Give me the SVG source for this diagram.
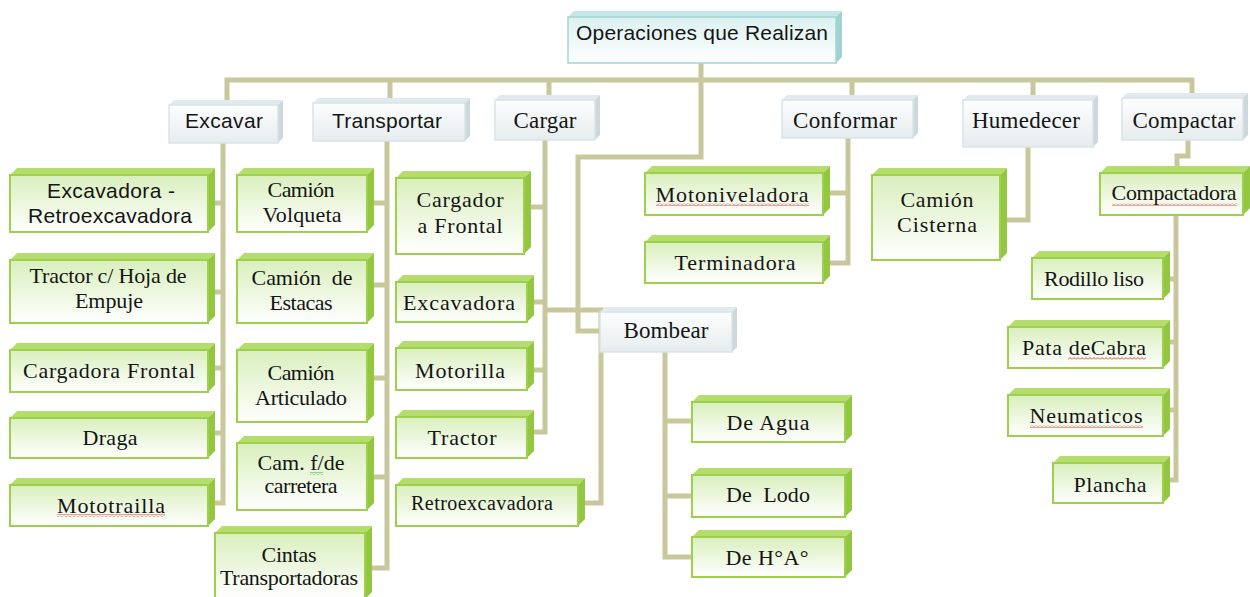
<svg xmlns="http://www.w3.org/2000/svg" width="1250" height="597" viewBox="0 0 1250 597">
<defs>
<linearGradient id="gG" x1="0" y1="0" x2="0" y2="1"><stop offset="0" stop-color="#d9efbd"/><stop offset="1" stop-color="#ffffff"/></linearGradient>
<linearGradient id="gW" x1="0" y1="0" x2="0" y2="1"><stop offset="0" stop-color="#fdfefe"/><stop offset="1" stop-color="#e6ecee"/></linearGradient>
<linearGradient id="gT" x1="0" y1="0" x2="0" y2="1"><stop offset="0" stop-color="#dcf1f1"/><stop offset="1" stop-color="#ffffff"/></linearGradient>
<pattern id="wr" width="4" height="3" patternUnits="userSpaceOnUse"><path d="M0,2.5 L2,0.5 L4,2.5" fill="none" stroke="#e03030" stroke-width="0.9"/></pattern>
<pattern id="wg" width="4" height="3" patternUnits="userSpaceOnUse"><path d="M0,2.5 L2,0.5 L4,2.5" fill="none" stroke="#30a030" stroke-width="0.9"/></pattern>
<style>
.c{fill:none;stroke:#c9c79c;stroke-width:5;stroke-linejoin:miter}
.gf{fill:url(#gG);stroke:#9dd14c;stroke-width:2}
.gt{fill:#b5dd6e}
.gs{fill:#93c742}
.wf{fill:url(#gW);stroke:#d9e3e7;stroke-width:1.5}
.wt{fill:#e3eaed}
.ws{fill:#cdd8dc}
.tf{fill:url(#gT);stroke:#a3d5d5;stroke-width:1.5}
.tt{fill:#c4e7e7}
.ts{fill:#a2d1d1}
text{fill:#151515;text-anchor:middle;font-size:21px}
.s{font-family:"Liberation Sans",Arial,sans-serif}
.r{font-family:"Liberation Serif","Times New Roman",serif;font-size:22px}
.h{font-size:23px}
</style>
</defs>

<g id="connectors">
<path class="c" d="M701,63 V80"/>
<path class="c" d="M227,101 V80 H1192 V97"/>
<path class="c" d="M390,80 V100 M549,80 V96 M852,80 V98 M1033,80 V97"/>
<path class="c" d="M701,80 V157 H578 V331 H600"/>
<path class="c" d="M223,143 V503 H215 M215,203 H223 M215,292 H223 M215,368 H223 M215,433 H223"/>
<path class="c" d="M387,141 V568 H372 M373,203 H387 M373,285 H387 M373,378 H387 M373,477 H387"/>
<path class="c" d="M545,140 V432 H532 M531,207 H545 M533,302 H545 M533,370 H545"/>
<path class="c" d="M545,310 H601 V503 H584"/>
<path class="c" d="M665,352 V557 H692 M665,421 H692 M665,496 H692"/>
<path class="c" d="M848,138 V263 H830 M830,193 H848"/>
<path class="c" d="M1028,147 V220 H1007"/>
<path class="c" d="M1188,140 V156 H1177 V170"/>
<path class="c" d="M1176,215 V480 H1170 M1170,279 H1176 M1170,342 H1176 M1170,410 H1176"/>
</g>

<g id="n-root">
<polygon class="tt" points="568,17 574,11 842,11 836,17"/><polygon class="ts" points="836,17 842,11 842,57 836,63"/>
<rect class="tf" x="568" y="17" width="268" height="46"/>
<text class="s" x="702" y="40" textLength="252">Operaciones que Realizan</text>
</g>

<g id="n-excavar">
<polygon class="wt" points="169,105 174,100 283,100 278,105"/><polygon class="ws" points="278,105 283,100 283,138 278,143"/>
<rect class="wf" x="169" y="105" width="109" height="38"/>
<text class="s" x="224" y="128" textLength="78">Excavar</text>
</g>
<g id="n-transportar">
<polygon class="wt" points="313,103 318,98 470,98 465,103"/><polygon class="ws" points="465,103 470,98 470,136 465,141"/>
<rect class="wf" x="313" y="103" width="152" height="38"/>
<text class="s" x="387" y="128" textLength="110">Transportar</text>
</g>
<g id="n-cargar">
<polygon class="wt" points="495,100 500,95 600,95 595,100"/><polygon class="ws" points="595,100 600,95 600,135 595,140"/>
<rect class="wf" x="495" y="100" width="100" height="40"/>
<text class="r h" x="545" y="128" textLength="63">Cargar</text>
</g>
<g id="n-conformar">
<polygon class="wt" points="782,100 787,95 918,95 913,100"/><polygon class="ws" points="913,100 918,95 918,133 913,138"/>
<rect class="wf" x="782" y="100" width="131" height="38"/>
<text class="r h" x="845" y="128" textLength="104">Conformar</text>
</g>
<g id="n-humedecer">
<polygon class="wt" points="963,100 968,95 1098,95 1093,100"/><polygon class="ws" points="1093,100 1098,95 1098,142 1093,147"/>
<rect class="wf" x="963" y="100" width="130" height="47"/>
<text class="r h" x="1026" y="128" textLength="108">Humedecer</text>
</g>
<g id="n-compactar">
<polygon class="wt" points="1122,98 1127,93 1248,93 1243,98"/><polygon class="ws" points="1243,98 1248,93 1248,135 1243,140"/>
<rect class="wf" x="1122" y="98" width="121" height="42"/>
<text class="r h" x="1184" y="128" textLength="103">Compactar</text>
</g>
<g id="n-bombear">
<polygon class="wt" points="600,312 605,307 737,307 732,312"/><polygon class="ws" points="732,312 737,307 737,347 732,352"/>
<rect class="wf" x="600" y="312" width="132" height="40"/>
<text class="r h" x="666" y="338" textLength="85">Bombear</text>
</g>

<g id="n-excavadora-retro">
<polygon class="gt" points="10,175 17,168 215,168 208,175"/><polygon class="gs" points="208,175 215,168 215,225 208,232"/>
<rect class="gf" x="10" y="175" width="198" height="57"/>
<text class="s" x="111" y="198" textLength="128">Excavadora -</text>
<text class="s" x="110" y="223" textLength="164">Retroexcavadora</text>
</g>
<g id="n-tractor-hoja">
<polygon class="gt" points="10,260 17,253 215,253 208,260"/><polygon class="gs" points="208,260 215,253 215,316 208,323"/>
<rect class="gf" x="10" y="260" width="198" height="63"/>
<text class="r" x="108" y="283" textLength="157">Tractor c/ Hoja de</text>
<text class="r" x="109" y="308" textLength="68">Empuje</text>
</g>
<g id="n-cargadora-frontal">
<polygon class="gt" points="10,350 17,343 215,343 208,350"/><polygon class="gs" points="208,350 215,343 215,385 208,392"/>
<rect class="gf" x="10" y="350" width="198" height="42"/>
<text class="r" x="109" y="378" textLength="172">Cargadora Frontal</text>
</g>
<g id="n-draga">
<polygon class="gt" points="10,418 17,411 215,411 208,418"/><polygon class="gs" points="208,418 215,411 215,451 208,458"/>
<rect class="gf" x="10" y="418" width="198" height="40"/>
<text class="r" x="110" y="445" textLength="55">Draga</text>
</g>
<g id="n-mototrailla">
<polygon class="gt" points="10,485 17,478 215,478 208,485"/><polygon class="gs" points="208,485 215,478 215,519 208,526"/>
<rect class="gf" x="10" y="485" width="198" height="41"/>
<text class="r" x="111" y="513" textLength="108">Mototrailla</text>
<rect x="57" y="514" width="108" height="3" fill="url(#wr)"/>
</g>

<g id="n-volqueta">
<polygon class="gt" points="237,175 244,168 374,168 367,175"/><polygon class="gs" points="367,175 374,168 374,225 367,232"/>
<rect class="gf" x="237" y="175" width="130" height="57"/>
<text class="r" x="301" y="197" textLength="67">Camión</text>
<text class="r" x="302" y="222" textLength="79">Volqueta</text>
</g>
<g id="n-estacas">
<polygon class="gt" points="237,260 244,253 374,253 367,260"/><polygon class="gs" points="367,260 374,253 374,316 367,323"/>
<rect class="gf" x="237" y="260" width="130" height="63"/>
<text class="r" x="302" y="285" textLength="101" xml:space="preserve">Camión  de</text>
<text class="r" x="301" y="310" textLength="63">Estacas</text>
</g>
<g id="n-articulado">
<polygon class="gt" points="237,350 244,343 374,343 367,350"/><polygon class="gs" points="367,350 374,343 374,415 367,422"/>
<rect class="gf" x="237" y="350" width="130" height="72"/>
<text class="r" x="301" y="380" textLength="67">Camión</text>
<text class="r" x="301" y="405" textLength="92">Articulado</text>
</g>
<g id="n-carretera">
<polygon class="gt" points="237,443 244,436 374,436 367,443"/><polygon class="gs" points="367,443 374,436 374,503 367,510"/>
<rect class="gf" x="237" y="443" width="130" height="67"/>
<text class="r" x="301" y="470" textLength="87">Cam. f/de</text>
<rect x="310" y="472" width="13" height="3" fill="url(#wg)"/>
<text class="r" x="301" y="493" textLength="73">carretera</text>
</g>
<g id="n-cintas">
<polygon class="gt" points="215,533 222,526 372,526 365,533"/><polygon class="gs" points="365,533 372,526 372,592 365,599"/>
<rect class="gf" x="215" y="533" width="150" height="66"/>
<text class="r" x="289" y="562" textLength="55">Cintas</text>
<text class="r" x="289" y="585" textLength="138">Transportadoras</text>
</g>

<g id="n-cargador-frontal">
<polygon class="gt" points="396,178 403,171 531,171 524,178"/><polygon class="gs" points="524,178 531,171 531,247 524,254"/>
<rect class="gf" x="396" y="178" width="128" height="76"/>
<text class="r" x="460" y="207" textLength="87">Cargador</text>
<text class="r" x="460" y="233" textLength="85">a Frontal</text>
</g>
<g id="n-excavadora">
<polygon class="gt" points="396,282 403,275 534,275 527,282"/><polygon class="gs" points="527,282 534,275 534,315 527,322"/>
<rect class="gf" x="396" y="282" width="131" height="40"/>
<text class="r" x="459" y="310" textLength="112">Excavadora</text>
</g>
<g id="n-motorilla">
<polygon class="gt" points="396,348 403,341 534,341 527,348"/><polygon class="gs" points="527,348 534,341 534,383 527,390"/>
<rect class="gf" x="396" y="348" width="131" height="42"/>
<text class="r" x="460" y="378" textLength="90">Motorilla</text>
</g>
<g id="n-tractor">
<polygon class="gt" points="396,417 403,410 534,410 527,417"/><polygon class="gs" points="527,417 534,410 534,451 527,458"/>
<rect class="gf" x="396" y="417" width="131" height="41"/>
<text class="r" x="462" y="445" textLength="69">Tractor</text>
</g>
<g id="n-retroexcavadora">
<polygon class="gt" points="396,485 403,478 585,478 578,485"/><polygon class="gs" points="578,485 585,478 585,519 578,526"/>
<rect class="gf" x="396" y="485" width="182" height="41"/>
<text class="r" x="482" y="510" style="font-size:20px" textLength="142">Retroexcavadora</text>
</g>

<g id="n-motoniveladora">
<polygon class="gt" points="645,173 652,166 830,166 823,173"/><polygon class="gs" points="823,173 830,166 830,208 823,215"/>
<rect class="gf" x="645" y="173" width="178" height="42"/>
<text class="r" x="732" y="202" textLength="153">Motoniveladora</text>
<rect x="656" y="203" width="153" height="3" fill="url(#wr)"/>
</g>
<g id="n-terminadora">
<polygon class="gt" points="645,242 652,235 830,235 823,242"/><polygon class="gs" points="823,242 830,235 830,276 823,283"/>
<rect class="gf" x="645" y="242" width="178" height="41"/>
<text class="r" x="735" y="270" textLength="121">Terminadora</text>
</g>

<g id="n-de-agua">
<polygon class="gt" points="692,402 699,395 852,395 845,402"/><polygon class="gs" points="845,402 852,395 852,435 845,442"/>
<rect class="gf" x="692" y="402" width="153" height="40"/>
<text class="r" x="768" y="430" textLength="83">De Agua</text>
</g>
<g id="n-de-lodo">
<polygon class="gt" points="692,475 699,468 852,468 845,475"/><polygon class="gs" points="845,475 852,468 852,510 845,517"/>
<rect class="gf" x="692" y="475" width="153" height="42"/>
<text class="r" x="768" y="502" textLength="84" xml:space="preserve">De  Lodo</text>
</g>
<g id="n-de-ha">
<polygon class="gt" points="692,537 699,530 852,530 845,537"/><polygon class="gs" points="845,537 852,530 852,570 845,577"/>
<rect class="gf" x="692" y="537" width="153" height="40"/>
<text class="r" x="767" y="565" textLength="83">De H°A°</text>
</g>

<g id="n-cisterna">
<polygon class="gt" points="872,175 879,168 1007,168 1000,175"/><polygon class="gs" points="1000,175 1007,168 1007,253 1000,260"/>
<rect class="gf" x="872" y="175" width="128" height="85"/>
<text class="r" x="937" y="207" textLength="73">Camión</text>
<text class="r" x="937" y="232" textLength="80">Cisterna</text>
</g>

<g id="n-compactadora">
<polygon class="gt" points="1100,173 1107,166 1250,166 1243,173"/><polygon class="gs" points="1243,173 1250,166 1250,208 1243,215"/>
<rect class="gf" x="1100" y="173" width="143" height="42"/>
<text class="r" x="1174" y="200" textLength="125">Compactadora</text>
<rect x="1112" y="203" width="125" height="3" fill="url(#wr)"/>
</g>
<g id="n-rodillo">
<polygon class="gt" points="1032,258 1039,251 1170,251 1163,258"/><polygon class="gs" points="1163,258 1170,251 1170,292 1163,299"/>
<rect class="gf" x="1032" y="258" width="131" height="41"/>
<text class="r" x="1094" y="286" textLength="100">Rodillo liso</text>
</g>
<g id="n-pata">
<polygon class="gt" points="1008,327 1015,320 1170,320 1163,327"/><polygon class="gs" points="1163,327 1170,320 1170,361 1163,368"/>
<rect class="gf" x="1008" y="327" width="155" height="41"/>
<text class="r" x="1084" y="355" textLength="124">Pata deCabra</text>
<rect x="1068" y="357" width="78" height="3" fill="url(#wr)"/>
</g>
<g id="n-neumaticos">
<polygon class="gt" points="1008,395 1015,388 1170,388 1163,395"/><polygon class="gs" points="1163,395 1170,388 1170,429 1163,436"/>
<rect class="gf" x="1008" y="395" width="155" height="41"/>
<text class="r" x="1086" y="423" textLength="113">Neumaticos</text>
<rect x="1030" y="425" width="113" height="3" fill="url(#wr)"/>
</g>
<g id="n-plancha">
<polygon class="gt" points="1053,463 1060,456 1170,456 1163,463"/><polygon class="gs" points="1163,463 1170,456 1170,496 1163,503"/>
<rect class="gf" x="1053" y="463" width="110" height="40"/>
<text class="r" x="1110" y="492" textLength="73">Plancha</text>
</g>
</svg>
